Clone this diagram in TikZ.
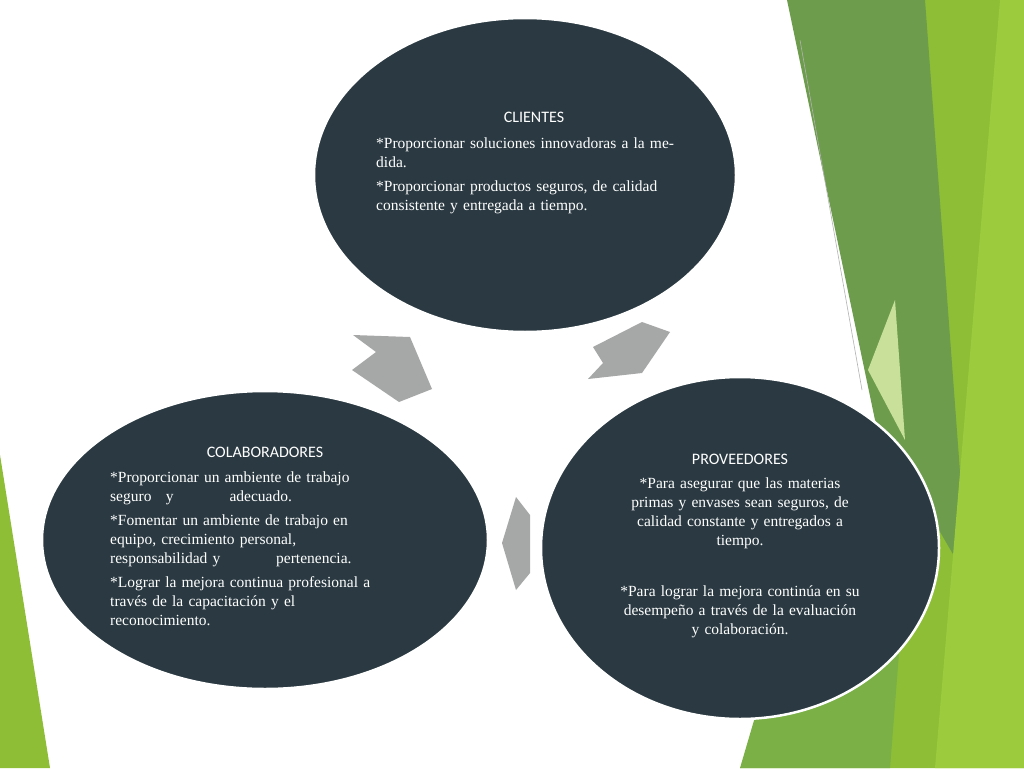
\documentclass[tikz,border=0pt]{standalone}
\usepackage{fontspec}
\usetikzlibrary{shapes.geometric}
\setmainfont{Liberation Serif}
\newfontfamily\ttl{Carlito}
\begin{document}
\begin{tikzpicture}[x=1pt,y=-1pt,
  bub/.style={fill=dk,draw=white,line width=2.5pt},
  arr/.style={fill=ar,draw=none},
  txt/.style={text=white,font=\fontsize{15.5}{19}\selectfont,inner sep=0pt},
  hd/.style={text=white,font=\ttl\fontsize{16}{19}\selectfont,inner sep=0pt}]
\definecolor{dk}{HTML}{2B3A42}
\definecolor{ar}{HTML}{A6A8A7}
\definecolor{g1}{HTML}{8DBE36}
\definecolor{g2}{HTML}{6C9C4C}
\definecolor{g3}{HTML}{9CCB3D}
\definecolor{g4}{HTML}{C8E09A}
\definecolor{g5}{HTML}{7AB046}
\useasboundingbox (0,0) rectangle (1024,768);
\fill[white] (0,0) rectangle (1024,768);
% green background
\fill[g1] (905,0) -- (1024,0) -- (1024,768) -- (740,768) -- (900,560) -- cycle;
\fill[g2] (787,0) -- (925,0) -- (968,580) -- (875,420) -- cycle;
\fill[g3] (1000,0) -- (1024,0) -- (1024,768) -- (935,768) -- cycle;
\fill[g4] (868,370) -- (895,300) -- (905,440) -- cycle;
\fill[g5] (760,700) -- (900,640) -- (890,768) -- (740,768) -- cycle;
\fill[g1] (0,455) -- (50,768) -- (0,768) -- cycle;
\draw[gray!60,line width=0.6pt] (800,40) -- (862,390);
% ellipses
\node[bub,ellipse,minimum width=422pt,minimum height=314pt] (cli) at (525,175) {};
\node[bub,ellipse,minimum width=446pt,minimum height=298pt] (col) at (265,540) {};
\node[bub,ellipse,minimum width=398pt,minimum height=342pt] (pro) at (740,548) {};
% arrows
\fill[arr] (353,335) -- (410,337) -- (432,389) -- (399,402) -- (352,370) -- (376,352) -- cycle;
\fill[arr] (593,347) -- (642,322) -- (670,332) -- (642,373) -- (588,379) -- (603,363) -- cycle;
\fill[arr] (516,497) -- (530,515) -- (530,573) -- (516,590) -- (502,543) -- cycle;
% texts
\node[hd] (clih) at (534,117) {CLIENTES};
\node[txt,anchor=north west,text width=305pt,align=left] (clit) at (376,138)
 {*Proporcionar soluciones innovadoras a la medida.\\[5pt]
  *Proporcionar productos seguros, de calidad consistente y entregada a tiempo.};
\node[hd] (colh) at (265,452) {COLABORADORES};
\node[txt,anchor=north west,text width=310pt,align=left] (colt) at (110,472)
 {*Proporcionar un ambiente de trabajo\\seguro\hspace{0.6em} y\hspace{3.6em}adecuado.\\[5pt]
  *Fomentar un ambiente de trabajo en\\equipo,\ crecimiento personal,\\responsabilidad y\hspace{3.6em}pertenencia.\\[5pt]
  *Lograr la mejora continua profesional a\\través de la capacitación y el\\reconocimiento.};
\node[hd] (proh) at (740,459) {PROVEEDORES};
\node[txt,anchor=north,text width=300pt,align=center] (prot) at (740,478)
 {*Para asegurar que las materias\\primas y envases sean seguros, de\\calidad constante y entregados a\\tiempo.\\[32pt]
  *Para lograr la mejora continúa en su\\desempeño a través de la evaluación\\y colaboración.};
\end{tikzpicture}
\end{document}
